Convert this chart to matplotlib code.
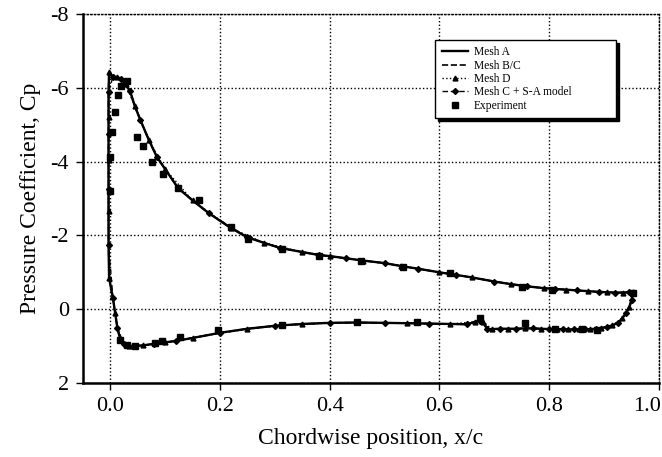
import matplotlib
matplotlib.use("Agg")
import matplotlib.pyplot as plt
import matplotlib.transforms as mtransforms
import numpy as np

# ---- data ----
# computed curve, ordered lower-surface TE -> stagnation -> LE -> upper-surface TE
x_lower = [0.953, 0.950, 0.946, 0.940, 0.933, 0.925, 0.915, 0.905, 0.895, 0.885,
           0.875, 0.865, 0.855, 0.845, 0.835, 0.825, 0.815, 0.80, 0.785, 0.77,
           0.755, 0.74, 0.725, 0.71, 0.695, 0.687, 0.680, 0.674, 0.665, 0.65,
           0.62, 0.58, 0.54, 0.50, 0.45, 0.40, 0.35, 0.30, 0.25, 0.20,
           0.15, 0.12, 0.10, 0.08, 0.06, 0.045, 0.035, 0.025, 0.018, 0.013,
           0.009, 0.005]
cp_lower = [-0.47, -0.25, -0.05, 0.10, 0.25, 0.37, 0.44, 0.48, 0.51, 0.53,
            0.54, 0.55, 0.55, 0.55, 0.55, 0.54, 0.54, 0.54, 0.53, 0.52,
            0.52, 0.53, 0.53, 0.53, 0.54, 0.54, 0.34, 0.31, 0.34, 0.41,
            0.40, 0.39, 0.38, 0.37, 0.36, 0.37, 0.40, 0.45, 0.53, 0.64,
            0.78, 0.86, 0.90, 0.94, 0.98, 1.00, 1.00, 0.95, 0.80, 0.50,
            0.10, -0.30]
x_upper = [-0.002, -0.003, -0.003, -0.003, -0.003, -0.003, -0.003, -0.003, -0.002,
           0.005, 0.012, 0.020, 0.028, 0.036, 0.045, 0.055, 0.070, 0.085, 0.100,
           0.124, 0.15, 0.18, 0.22, 0.25, 0.28, 0.31, 0.35, 0.38, 0.40,
           0.43, 0.46, 0.50, 0.53, 0.56, 0.60, 0.63, 0.66, 0.70, 0.73,
           0.76, 0.79, 0.81, 0.83, 0.85, 0.87, 0.89, 0.905, 0.92, 0.935,
           0.945, 0.953]
cp_upper = [-0.85, -1.75, -2.65, -3.25, -4.05, -4.75, -5.2, -5.9, -6.43,
            -6.3, -6.3, -6.25, -6.1, -5.92, -5.5, -5.13, -4.6, -4.13, -3.8,
            -3.28, -2.95, -2.6, -2.2, -1.95, -1.8, -1.66, -1.55, -1.47, -1.44,
            -1.38, -1.32, -1.25, -1.17, -1.10, -1.00, -0.93, -0.86, -0.75, -0.68,
            -0.62, -0.57, -0.55, -0.53, -0.51, -0.49, -0.47, -0.46, -0.45, -0.45,
            -0.46, -0.47]

# experiment
x_exp = [0.0, 0.0, 0.004, 0.009, 0.015, 0.02, 0.03, 0.049, 0.06, 0.076,
         0.096, 0.124, 0.162, 0.22, 0.251, 0.313, 0.381, 0.457, 0.534, 0.62,
         0.75, 0.805, 0.953,
         0.018, 0.031, 0.045, 0.082, 0.095, 0.127, 0.197, 0.313, 0.45, 0.559,
         0.674, 0.756, 0.81, 0.86, 0.887]
cp_exp = [-3.2, -4.12, -4.8, -5.34, -5.8, -6.05, -6.2, -4.67, -4.42, -3.99,
          -3.66, -3.28, -2.96, -2.23, -1.90, -1.63, -1.44, -1.31, -1.14, -0.98,
          -0.61, -0.52, -0.45,
          0.83, 0.97, 1.0, 0.92, 0.86, 0.75, 0.56, 0.43, 0.36, 0.35,
          0.24, 0.37, 0.54, 0.54, 0.56]

x_ticks = [0.0, 0.2, 0.4, 0.6, 0.8, 1.0]
y_ticks = [-8, -6, -4, -2, 0, 2]

# ---- plot ----
plt.rcParams['font.family'] = ['Liberation Serif', 'DejaVu Serif']
plt.rcParams['axes.unicode_minus'] = False

fig = plt.figure(figsize=(6.62, 4.57), dpi=100)
ax = fig.add_axes([0.125, 0.162, 0.8705, 0.807])

x_curve = np.array(x_lower + x_upper)
cp_curve = np.array(cp_lower + cp_upper)

ax.plot(x_curve, cp_curve, color='black', lw=1.7, ls='-', label='Mesh A', zorder=4)
ax.plot(x_curve, cp_curve, color='black', lw=1.2, ls='--', label='Mesh B/C', zorder=4)
ax.plot(x_curve[::2], cp_curve[::2], color='black', lw=1.0, ls=':', marker='^',
        ms=3.5, label='Mesh D', zorder=4)
ax.plot(x_curve[1::2], cp_curve[1::2], color='black', lw=1.0, ls='--', marker='D',
        ms=3, dashes=(4, 2), label='Mesh C + S-A model', zorder=4)
ax.plot(x_exp, cp_exp, ls='none', marker='s', ms=4.5, color='black',
        label='Experiment', zorder=5)

ax.set_xlim(-0.05, 1.0)
ax.set_ylim(2, -8)
ax.set_xticks(x_ticks)
ax.set_xticklabels([f"{v:.1f}" for v in x_ticks])
ax.set_yticks(y_ticks)
ax.set_yticklabels([str(v) for v in y_ticks])

ax.grid(True, color='black', ls=(0, (1, 1.6)), lw=1.0)
for s in ['top', 'right']:
    ax.spines[s].set_linestyle((0, (1, 1.6)))
    ax.spines[s].set_linewidth(1.0)
for s in ['left', 'bottom']:
    ax.spines[s].set_linewidth(1.8)

ax.tick_params(direction='out', length=5, width=1, labelsize=16, pad=5)
# keep the last x tick label inside the figure
last = ax.get_xticklabels()[-1]
last.set_transform(last.get_transform() +
                   mtransforms.ScaledTranslation(-12 / 100, 0, fig.dpi_scale_trans))

ax.set_xlabel('Chordwise position, x/c', fontsize=17, labelpad=9)
ax.set_ylabel('Pressure Coefficient, Cp', fontsize=17, labelpad=7)

leg = ax.legend(loc='upper left', bbox_to_anchor=(0.612, 0.715, 0.314, 0.215),
                mode='expand', fontsize=8.3, frameon=True, fancybox=False,
                edgecolor='black', framealpha=1, borderpad=0.55,
                labelspacing=0.12, handlelength=2.3, handletextpad=0.5,
                borderaxespad=0,
                shadow={'ox': 2, 'oy': -2, 'color': 'black', 'alpha': 1})
leg.get_frame().set_linewidth(1.0)

fig.savefig('out.png', dpi=100)
